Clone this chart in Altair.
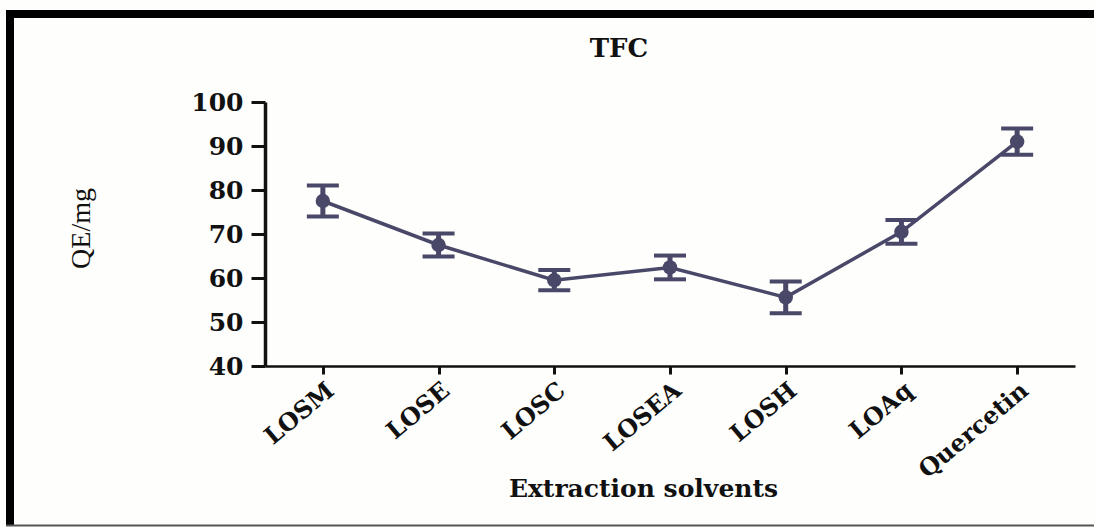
import altair as alt
import pandas as pd

# Total flavonoid content by extraction solvent (mean ± error)
title_text = ["TFC"]
solvents = ["LOSM", "LOSE", "LOSC", "LOSEA", "LOSH", "LOAq", "Quercetin"]
qe_mean = [77.5, 67.5, 59.5, 62.4, 55.6, 70.5, 91.0]
qe_err = [3.5, 2.6, 2.3, 2.7, 3.6, 2.7, 3.0]

df = pd.DataFrame({"solvent": solvents, "mean": qe_mean, "err": qe_err})
df["lo"] = df["mean"] - df["err"]
df["hi"] = df["mean"] + df["err"]

INK = "#4a4868"
SERIF = "DejaVu Serif"

x_enc = alt.X(
    "solvent:N",
    sort=solvents,
    scale=alt.Scale(type="point", padding=0.5),
    axis=alt.Axis(
        title="Extraction solvents",
        titleFont=SERIF,
        titleFontSize=25,
        titleFontWeight="bold",
        titleColor="#111",
        titleX=378,
        titleY=130,
        titleAlign="center",
        titleBaseline="alphabetic",
        labelFont=SERIF,
        labelFontSize=24,
        labelFontWeight="bold",
        labelColor="#111",
        labelAngle=320,
        labelAlign="right",
        labelBaseline="top",
        labelPadding=4,
        domainColor="#111",
        domainWidth=2.5,
        tickColor="#111",
        tickWidth=3,
        tickSize=8,
        grid=False,
    ),
)

y_scale = alt.Scale(domain=[40, 100], nice=False, zero=False)
y_axis = alt.Axis(
    title="QE/mg",
    titleFont="Liberation Serif",
    titleFontSize=28,
    titleFontWeight="normal",
    titleColor="#111",
    titleAngle=270,
    titleX=-184,
    titleY=126,
    titleAlign="center",
    titleBaseline="middle",
    values=[40, 50, 60, 70, 80, 90, 100],
    labelFont=SERIF,
    labelFontSize=25,
    labelFontWeight="bold",
    labelColor="#111",
    labelPadding=8,
    domainColor="#111",
    domainWidth=3.5,
    tickColor="#111",
    tickWidth=3,
    tickSize=14,
    grid=False,
)

base = alt.Chart(df)

line = base.mark_line(color=INK, strokeWidth=3.5).encode(
    x=x_enc, y=alt.Y("mean:Q", scale=y_scale, axis=y_axis)
)
points = base.mark_point(filled=True, color=INK, size=210, opacity=1).encode(
    x=x_enc, y=alt.Y("mean:Q", scale=y_scale)
)
whisker = base.mark_rule(color=INK, strokeWidth=5).encode(
    x=x_enc, y=alt.Y("lo:Q", scale=y_scale), y2="hi:Q"
)
cap_lo = base.mark_tick(
    color=INK, size=32, thickness=4, orient="horizontal", opacity=1
).encode(x=x_enc, y=alt.Y("lo:Q", scale=y_scale))
cap_hi = base.mark_tick(
    color=INK, size=32, thickness=4, orient="horizontal", opacity=1
).encode(x=x_enc, y=alt.Y("hi:Q", scale=y_scale))

# Chart heading
heading = alt.Chart(pd.DataFrame({"t": title_text})).mark_text(
    font=SERIF, fontSize=26, fontWeight="bold", color="#111",
    align="center", baseline="alphabetic",
).encode(text="t:N", x=alt.value(354), y=alt.value(-45))

# Figure frame: heavy top and left borders, thin bottom rule
frame_src = alt.Chart(pd.DataFrame({"k": [0]}))
top_bar = frame_src.mark_rule(color="#000", strokeWidth=8).encode(
    x=alt.value(-259), x2=alt.value(829), y=alt.value(-88)
)
left_bar = frame_src.mark_rule(color="#000", strokeWidth=8).encode(
    x=alt.value(-255), y=alt.value(-92), y2=alt.value(424)
)
bottom_rule = frame_src.mark_rule(color="#555", strokeWidth=2).encode(
    x=alt.value(-259), x2=alt.value(829), y=alt.value(423.5)
)

chart = (
    alt.layer(
        top_bar, left_bar, bottom_rule, heading,
        line, whisker, cap_lo, cap_hi, points,
    )
    .properties(
        width=810,
        height=264,
        autosize=alt.AutoSizeParams(type="none"),
        padding={"left": 265, "top": 102, "right": 19, "bottom": 161},
        background="#fefefc",
    )
    .configure_view(stroke=None)
)

chart.save("out.html", embed_options={"renderer": "svg", "actions": False})
